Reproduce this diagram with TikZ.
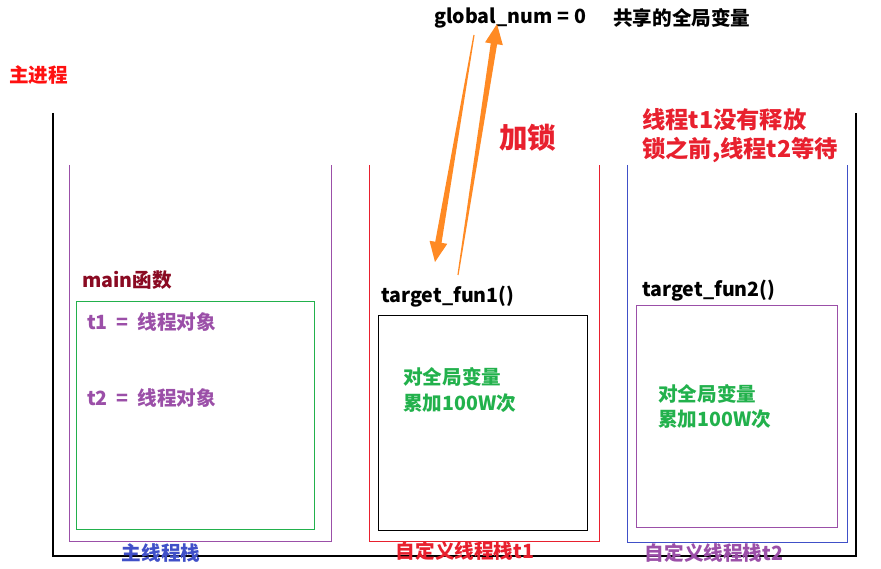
\documentclass[tikz,border=0pt]{standalone}
\usepackage{fontspec}
\setmainfont{Noto Sans CJK SC}
\usetikzlibrary{calc}
\definecolor{cred}{HTML}{FF1010}
\definecolor{lred}{HTML}{E8202E}
\definecolor{dred}{HTML}{8A0A22}
\definecolor{cpurple}{HTML}{9B4FA8}
\definecolor{cblue}{HTML}{4050C8}
\definecolor{cgreen}{HTML}{22B14C}
\definecolor{corange}{HTML}{FF8A24}
\newcommand\taperarrow[3]{% start, tip, half-width at start
  \fill[corange] ($(#1)!#3!90:(#2)$) -- ($($(#2)!20pt!(#1)$)!3.2pt!-90:(#1)$)
    -- ($($(#2)!20pt!(#1)$)!9pt!-90:(#1)$) -- (#2)
    -- ($($(#2)!20pt!(#1)$)!9pt!90:(#1)$) -- ($($(#2)!20pt!(#1)$)!3.2pt!90:(#1)$)
    -- ($(#1)!#3!-90:(#2)$) -- cycle;}
\begin{document}
\begin{tikzpicture}[x=1pt,y=-1pt,
  txt/.style={inner sep=0pt,anchor=west,font=\fontsize{19.6}{23}\selectfont\bfseries},
  box/.style={draw,line width=1pt,inner sep=0pt,anchor=north west},
  ushape/.style={line width=1pt}]
\useasboundingbox (0,0) rectangle (881,569);
% outer process container
\draw[line width=1.2pt] (53,113) -- (53,556) -- (856,556) -- (856,113);
\node[txt,text=cred] (proc) at (9,75) {主进程};
% left stack
\draw[ushape,cpurple] (69,165) -- (69,541) -- (331,541) -- (331,165);
\node[txt,text=dred] (mainf) at (82,280) {main函数};
\node[box,cgreen,minimum width=238pt,minimum height=228pt] (mbox) at (76,301) {};
\node[txt,text=cpurple] (t1) at (87,322) {t1 \ = \ 线程对象};
\node[txt,text=cpurple] (t2) at (87,398) {t2 \ = \ 线程对象};
\node[txt,text=cblue,anchor=center] (ml) at (161,553) {主线程栈};
% middle stack
\draw[ushape,lred] (369,165) -- (369,541) -- (599,541) -- (599,165);
\node[txt] (tf1) at (381,297) {target\_fun1()};
\node[box,black,minimum width=209pt,minimum height=215pt] (b1) at (378,315) {};
\node[txt,text=cgreen] (g1a) at (403,377) {对全局变量};
\node[txt,text=cgreen] (g1b) at (403,403) {累加100W次};
\node[txt,text=lred,anchor=center] (l1) at (465,551) {自定义线程栈t1};
% right stack
\draw[ushape,cblue] (627,165) -- (627,542) -- (847,542) -- (847,165);
\node[txt] (tf2) at (642,291) {target\_fun2()};
\node[box,cpurple,minimum width=201pt,minimum height=222pt] (b2) at (636,305) {};
\node[txt,text=cgreen] (g2a) at (658,394) {对全局变量};
\node[txt,text=cgreen] (g2b) at (658,419) {累加100W次};
\node[txt,text=cpurple,anchor=center] (l2) at (714,553) {自定义线程栈t2};
\node[txt,text=lred,font=\fontsize{23.3}{27}\selectfont\bfseries] (w1) at (642,120) {线程t1没有释放};
\node[txt,text=lred,font=\fontsize{23.3}{27}\selectfont\bfseries] (w2) at (642,150) {锁之前,线程t2等待};
% top
\node[txt] (gn) at (434,18) {global\_num\hspace{5pt}=\hspace{5pt}0};
\node[txt] (gs) at (613,18) {共享的全局变量};
\node[txt,text=lred,font=\fontsize{28.5}{32}\selectfont\bfseries] (lock) at (499,138) {加锁};
% arrows
\coordinate (a1s) at (458,275);
\coordinate (a1t) at (497,24);
\coordinate (a2s) at (474,35);
\coordinate (a2t) at (435,262);
\taperarrow{a1s}{a1t}{0.6pt}
\taperarrow{a2s}{a2t}{0.6pt}
\end{tikzpicture}
\end{document}
